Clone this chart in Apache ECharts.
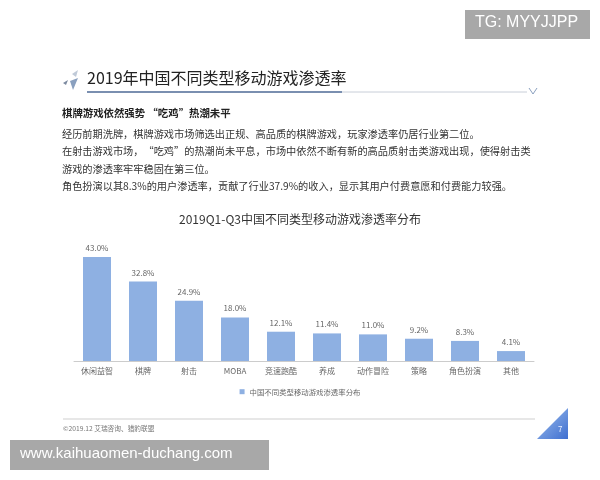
<!DOCTYPE html>
<html><head><meta charset="utf-8">
<script src="https://cdn.jsdelivr.net/npm/echarts@6/dist/echarts.min.js"></script>
<style>html,body{margin:0;padding:0;background:#fff}#c{width:600px;height:480px}</style>
</head><body><div id="c"></div>
<script>
const categories = ['休闲益智','棋牌','射击','MOBA','竞速跑酷','养成','动作冒险','策略','角色扮演','其他'];
const penetration = [43.0, 32.8, 24.9, 18.0, 12.1, 11.4, 11.0, 9.2, 8.3, 4.1];
const seriesName = '中国不同类型移动游戏渗透率分布';
const pageTitle = '2019年中国不同类型移动游戏渗透率';
const chartTitle = '2019Q1-Q3中国不同类型移动游戏渗透率分布';
const subHead = '棋牌游戏依然强势 “吃鸡”热潮未平';
const paragraph = [
  '经历前期洗牌，棋牌游戏市场筛选出正规、高品质的棋牌游戏，玩家渗透率仍居行业第二位。',
  '在射击游戏市场，“吃鸡”的热潮尚未平息，市场中依然不断有新的高品质射击类游戏出现，使得射击类',
  '游戏的渗透率牢牢稳固在第三位。',
  '角色扮演以其8.3%的用户渗透率，贡献了行业37.9%的收入，显示其用户付费意愿和付费能力较强。'
];
const source = '©2019.12 艾瑞咨询、猎豹联盟';
const pageNo = '7';
const wmTop = 'TG: MYYJJPP';
const wmBottom = 'www.kaihuaomen-duchang.com';

const font = '"Noto Sans CJK SC", "Noto Sans", sans-serif';
const chart = echarts.init(document.getElementById('c'), null, {renderer:'canvas'});

const graphics = [
  // title icon
  {type:'polygon', shape:{points:[[70,81],[78,78],[73,90]]}, style:{fill:'#8aa0bf'}},
  {type:'polygon', shape:{points:[[63,83],[68,80],[66,85]]}, style:{fill:'#7c8aa0'}},
  {type:'polygon', shape:{points:[[72,74],[78,70],[76,77]]}, style:{fill:'#c0cad8'}},
  {type:'text', left:87, top:70, style:{text:pageTitle, font:'16px '+font, fill:'#222'}},
  {type:'line', shape:{x1:87,y1:92,x2:342,y2:92}, style:{stroke:'#7a8fb0', lineWidth:2}},
  {type:'line', shape:{x1:342,y1:92,x2:527,y2:92}, style:{stroke:'#c8ced8', lineWidth:1}},
  {type:'polyline', shape:{points:[[529,88],[533,94],[537,88]]}, style:{stroke:'#8aa0bf', lineWidth:1, fill:null}},
  {type:'text', left:62, top:108, style:{text:subHead, font:'bold 10.4px '+font, fill:'#222'}},
  {type:'text', left:62, top:125, style:{text:paragraph.join('\n'), font:'10.2px '+font, fill:'#333', lineHeight:17.5}},
  // footer
  {type:'line', shape:{x1:63,y1:419,x2:535,y2:419}, style:{stroke:'#cfcfcf', lineWidth:1}},
  {type:'text', left:63, top:425, style:{text:source, font:'6.7px '+font, fill:'#777'}},
  {type:'polygon', shape:{points:[[568,408],[568,439],[537,439]]},
    style:{fill:new echarts.graphic.LinearGradient(0,0,1,1,[{offset:0,color:'#9fc0ee'},{offset:1,color:'#3f6fd0'}])}},
  {type:'text', left:558, top:425, style:{text:pageNo, font:'8px '+font, fill:'#e8f0ff'}},
  // watermarks
  {type:'rect', shape:{x:465,y:10,width:125,height:29}, style:{fill:'#a8a8a8'}},
  {type:'text', left:475, top:15, style:{text:wmTop, font:'16px "Liberation Sans", Arial, sans-serif', fill:'#fff'}},
  {type:'rect', shape:{x:10,y:440,width:259,height:30}, style:{fill:'#a8a8a8'}},
  {type:'text', left:20, top:446, style:{text:wmBottom, font:'15px "Liberation Sans", Arial, sans-serif', fill:'#fff'}}
];

chart.setOption({
  animation:false,
  backgroundColor:'#fff',
  title:{text:chartTitle, left:'center', top:208, textStyle:{fontFamily:font, fontSize:12, fontWeight:'normal', color:'#333'}},
  legend:{data:[seriesName], top:383, left:'center', itemWidth:5, itemHeight:5, itemGap:4, icon:'rect',
    textStyle:{fontFamily:font, fontSize:7.4, color:'#666'}},
  grid:{left:74, width:460, top:240, bottom:119},
  xAxis:{type:'category', data:categories, axisTick:{show:false},
    axisLine:{lineStyle:{color:'#cccccc'}},
    axisLabel:{fontFamily:font, fontSize:8, color:'#666', margin:6}},
  yAxis:{type:'value', min:0, max:50, show:false, splitLine:{show:false}},
  series:[{name:seriesName, type:'bar', data:penetration, barWidth:28, itemStyle:{color:'#8eb0e2'},
    label:{show:true, position:'top', distance:5, formatter:p=>p.value.toFixed(1)+'%', fontFamily:font, fontSize:8, color:'#666'}}],
  graphic:graphics
});
</script></body></html>
